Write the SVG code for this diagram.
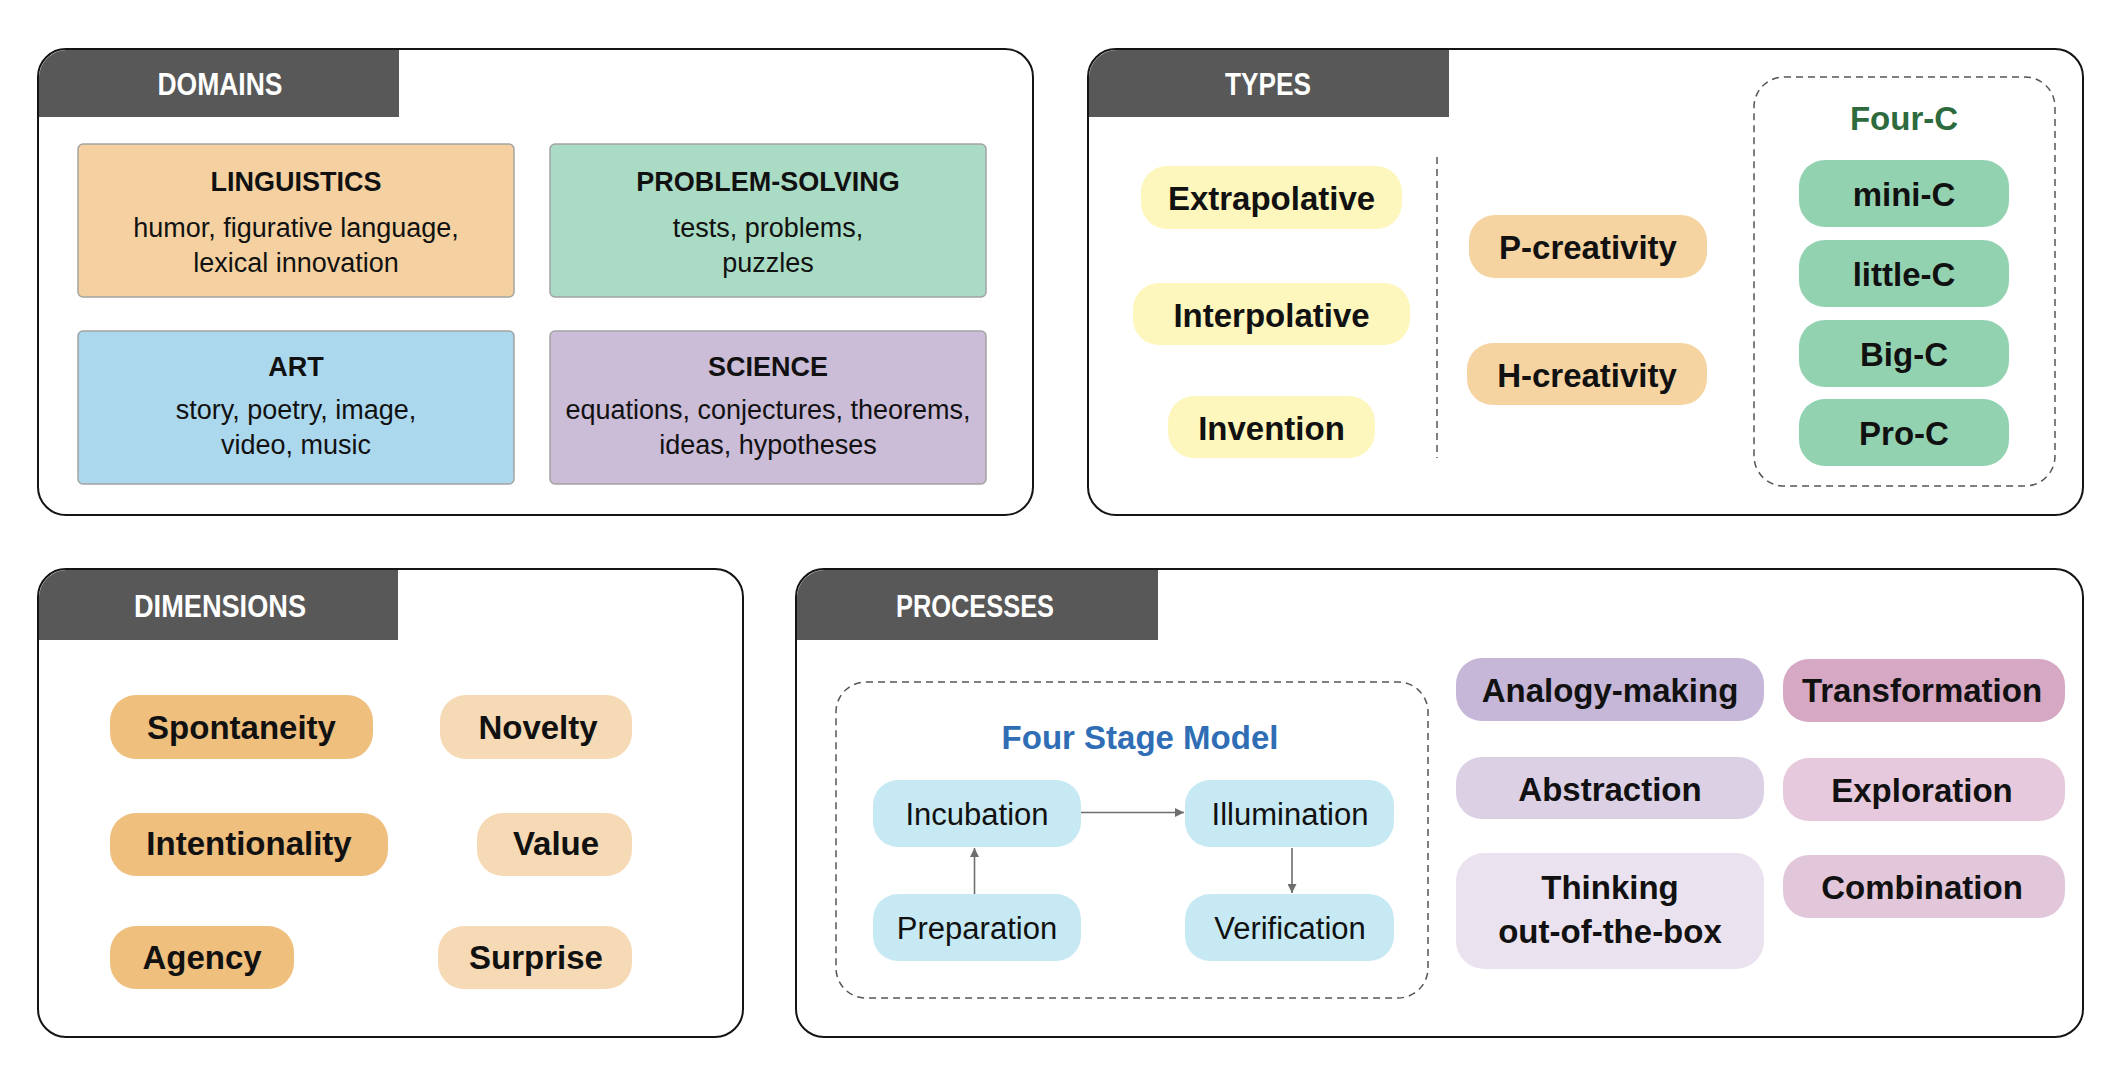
<svg xmlns="http://www.w3.org/2000/svg" width="2122" height="1080" viewBox="0 0 2122 1080">
  <defs>
    <style>
      .panel { fill: #ffffff; stroke: #141414; stroke-width: 2; }
      .tab { fill: #585858; }
      .tabtxt { font-family: "Liberation Sans", Arial, sans-serif; font-weight: 700; font-size: 31px; fill: #ffffff; text-anchor: middle; }
      .dbox { stroke: #a3a3a3; stroke-width: 1.5; }
      .dtitle { font-family: "Liberation Sans", Arial, sans-serif; font-weight: 700; font-size: 27px; fill: #111111; text-anchor: middle; }
      .dbody { font-family: "Liberation Sans", Arial, sans-serif; font-size: 27px; fill: #111111; text-anchor: middle; }
      .pill { font-family: "Liberation Sans", Arial, sans-serif; font-weight: 700; font-size: 33px; fill: #111111; text-anchor: middle; }
      .stage { font-family: "Liberation Sans", Arial, sans-serif; font-size: 31px; fill: #111111; text-anchor: middle; }
      .grouptitle { font-family: "Liberation Sans", Arial, sans-serif; font-weight: 700; font-size: 33px; text-anchor: middle; }
      .dash { fill: none; stroke: #555555; stroke-width: 1.5; stroke-dasharray: 7 5; }
      .conn { fill: none; stroke: #6e6e6e; stroke-width: 1.6; marker-end: url(#arrow); }
    </style>
    <marker id="arrow" viewBox="0 0 10 10" refX="10" refY="5" markerWidth="9" markerHeight="9" markerUnits="userSpaceOnUse" orient="auto">
      <path d="M0,0 L10,5 L0,10 z" fill="#6e6e6e"/>
    </marker>
  </defs>

  <rect width="2122" height="1080" fill="#ffffff"/>

  <!-- DOMAINS panel -->
  <g id="domains">
    <rect class="panel" x="38" y="49" width="995" height="466" rx="28"/>
    <path class="tab" d="M39,117 V77 A28,28 0 0 1 67,50 H399 V117 Z"/>
    <text class="tabtxt" x="220" y="95" textLength="125" lengthAdjust="spacingAndGlyphs">DOMAINS</text>

    <g id="linguistics">
      <rect class="dbox" x="78" y="144" width="436" height="153" rx="5" fill="#f5d1a1"/>
      <text class="dtitle" x="296" y="191">LINGUISTICS</text>
      <text class="dbody" x="296" y="237">humor, figurative language,</text>
      <text class="dbody" x="296" y="272">lexical innovation</text>
    </g>
    <g id="problem-solving">
      <rect class="dbox" x="550" y="144" width="436" height="153" rx="5" fill="#aadbc4"/>
      <text class="dtitle" x="768" y="191">PROBLEM-SOLVING</text>
      <text class="dbody" x="768" y="237">tests, problems,</text>
      <text class="dbody" x="768" y="272">puzzles</text>
    </g>
    <g id="art">
      <rect class="dbox" x="78" y="331" width="436" height="153" rx="5" fill="#acd8ee"/>
      <text class="dtitle" x="296" y="376">ART</text>
      <text class="dbody" x="296" y="419">story, poetry, image,</text>
      <text class="dbody" x="296" y="454">video, music</text>
    </g>
    <g id="science">
      <rect class="dbox" x="550" y="331" width="436" height="153" rx="5" fill="#cbbcd8"/>
      <text class="dtitle" x="768" y="376">SCIENCE</text>
      <text class="dbody" x="768" y="419">equations, conjectures, theorems,</text>
      <text class="dbody" x="768" y="454">ideas, hypotheses</text>
    </g>
  </g>

  <!-- TYPES panel -->
  <g id="types">
    <rect class="panel" x="1088" y="49" width="995" height="466" rx="28"/>
    <path class="tab" d="M1089,117 V77 A28,28 0 0 1 1117,50 H1449 V117 Z"/>
    <text class="tabtxt" x="1268" y="95" textLength="86" lengthAdjust="spacingAndGlyphs">TYPES</text>

    <g id="extrapolative">
      <rect x="1141" y="166" width="261" height="63" rx="26" fill="#fdf6bd"/>
      <text class="pill" x="1271.5" y="210">Extrapolative</text>
    </g>
    <g id="interpolative">
      <rect x="1133" y="283" width="277" height="62" rx="26" fill="#fdf6bd"/>
      <text class="pill" x="1271.5" y="327">Interpolative</text>
    </g>
    <g id="invention">
      <rect x="1168" y="396" width="207" height="62" rx="26" fill="#fdf6bd"/>
      <text class="pill" x="1271.5" y="440">Invention</text>
    </g>

    <line class="dash" x1="1437" y1="157" x2="1437" y2="458"/>

    <g id="p-creativity">
      <rect x="1469" y="215" width="238" height="63" rx="26" fill="#f5d4a2"/>
      <text class="pill" x="1588" y="259">P-creativity</text>
    </g>
    <g id="h-creativity">
      <rect x="1467" y="343" width="240" height="62" rx="26" fill="#f5d4a2"/>
      <text class="pill" x="1587" y="387">H-creativity</text>
    </g>

    <g id="four-c">
      <rect class="dash" x="1754" y="77" width="301" height="409" rx="30"/>
      <text class="grouptitle" x="1904" y="130" fill="#2d6a3d">Four-C</text>
      <g id="mini-c">
        <rect x="1799" y="160" width="210" height="67" rx="26" fill="#93d2b0"/>
        <text class="pill" x="1904" y="206">mini-C</text>
      </g>
      <g id="little-c">
        <rect x="1799" y="240" width="210" height="67" rx="26" fill="#93d2b0"/>
        <text class="pill" x="1904" y="286">little-C</text>
      </g>
      <g id="big-c">
        <rect x="1799" y="320" width="210" height="67" rx="26" fill="#93d2b0"/>
        <text class="pill" x="1904" y="366">Big-C</text>
      </g>
      <g id="pro-c">
        <rect x="1799" y="399" width="210" height="67" rx="26" fill="#93d2b0"/>
        <text class="pill" x="1904" y="445">Pro-C</text>
      </g>
    </g>
  </g>

  <!-- DIMENSIONS panel -->
  <g id="dimensions">
    <rect class="panel" x="38" y="569" width="705" height="468" rx="28"/>
    <path class="tab" d="M39,640 V597 A28,28 0 0 1 67,570 H398 V640 Z"/>
    <text class="tabtxt" x="220" y="617" textLength="172" lengthAdjust="spacingAndGlyphs">DIMENSIONS</text>

    <g id="spontaneity">
      <rect x="110" y="695" width="263" height="64" rx="26" fill="#efbf7e"/>
      <text class="pill" x="241.5" y="739">Spontaneity</text>
    </g>
    <g id="intentionality">
      <rect x="110" y="813" width="278" height="63" rx="26" fill="#efbf7e"/>
      <text class="pill" x="249" y="855">Intentionality</text>
    </g>
    <g id="agency">
      <rect x="110" y="926" width="184" height="63" rx="26" fill="#efbf7e"/>
      <text class="pill" x="202" y="969">Agency</text>
    </g>
    <g id="novelty">
      <rect x="440" y="695" width="192" height="64" rx="26" fill="#f6dab5"/>
      <text class="pill" x="538" y="739">Novelty</text>
    </g>
    <g id="value">
      <rect x="477" y="813" width="155" height="63" rx="26" fill="#f6dab5"/>
      <text class="pill" x="556" y="855">Value</text>
    </g>
    <g id="surprise">
      <rect x="438" y="926" width="194" height="63" rx="26" fill="#f6dab5"/>
      <text class="pill" x="536" y="969">Surprise</text>
    </g>
  </g>

  <!-- PROCESSES panel -->
  <g id="processes">
    <rect class="panel" x="796" y="569" width="1287" height="468" rx="28"/>
    <path class="tab" d="M797,640 V597 A28,28 0 0 1 825,570 H1158 V640 Z"/>
    <text class="tabtxt" x="975" y="617" textLength="158" lengthAdjust="spacingAndGlyphs">PROCESSES</text>

    <g id="four-stage-model">
      <rect class="dash" x="836" y="682" width="592" height="316" rx="30"/>
      <text class="grouptitle" x="1140" y="749" fill="#2f6db5">Four Stage Model</text>
      <g id="incubation">
        <rect x="873" y="780" width="208" height="67" rx="25" fill="#c6e9f3"/>
        <text class="stage" x="977" y="825">Incubation</text>
      </g>
      <g id="illumination">
        <rect x="1185" y="780" width="209" height="67" rx="25" fill="#c6e9f3"/>
        <text class="stage" x="1290" y="825">Illumination</text>
      </g>
      <g id="preparation">
        <rect x="873" y="894" width="208" height="67" rx="25" fill="#c6e9f3"/>
        <text class="stage" x="977" y="939">Preparation</text>
      </g>
      <g id="verification">
        <rect x="1185" y="894" width="209" height="67" rx="25" fill="#c6e9f3"/>
        <text class="stage" x="1290" y="939">Verification</text>
      </g>
    </g>

    <g id="analogy-making">
      <rect x="1456" y="658" width="308" height="63" rx="26" fill="#c6b6d7"/>
      <text class="pill" x="1610" y="702">Analogy-making</text>
    </g>
    <g id="transformation">
      <rect x="1783" y="659" width="282" height="63" rx="26" fill="#d6a8c3"/>
      <text class="pill" x="1922" y="702">Transformation</text>
    </g>
    <g id="abstraction">
      <rect x="1456" y="757" width="308" height="62" rx="26" fill="#dcd0e5"/>
      <text class="pill" x="1610" y="801">Abstraction</text>
    </g>
    <g id="exploration">
      <rect x="1783" y="758" width="282" height="63" rx="26" fill="#e6c9dc"/>
      <text class="pill" x="1922" y="802">Exploration</text>
    </g>
    <g id="thinking-out-of-the-box">
      <rect x="1456" y="853" width="308" height="116" rx="28" fill="#ebe2ef"/>
      <text class="pill" x="1610" y="899">Thinking</text>
      <text class="pill" x="1610" y="943">out-of-the-box</text>
    </g>
    <g id="combination">
      <rect x="1783" y="855" width="282" height="63" rx="26" fill="#e2c7da"/>
      <text class="pill" x="1922" y="899">Combination</text>
    </g>
  </g>

  <!-- Stage transitions -->
  <g id="connectors">
    <line class="conn" x1="1081" y1="812.5" x2="1184" y2="812.5"/>
    <line class="conn" x1="974.5" y1="894" x2="974.5" y2="848"/>
    <line class="conn" x1="1292" y1="848" x2="1292" y2="893"/>
  </g>
</svg>
